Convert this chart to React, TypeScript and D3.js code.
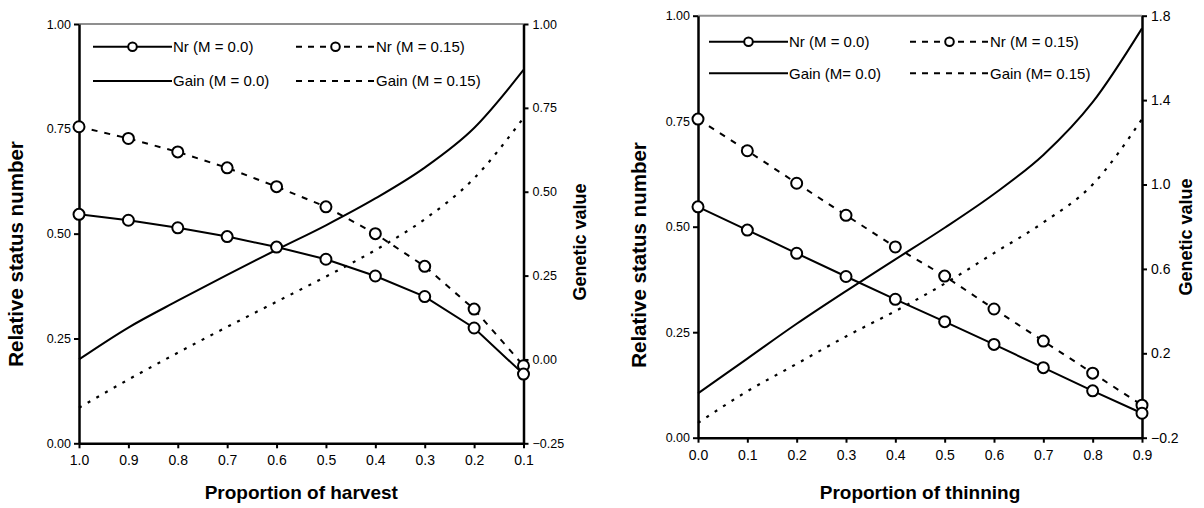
import React, { useEffect, useRef } from 'react';
import * as d3 from 'd3';

// left panel: proportion of harvest
const harvestX = [1.0, 0.9, 0.8, 0.7, 0.6, 0.5, 0.4, 0.3, 0.2, 0.1];
const harvestNr0 = [0.546, 0.532, 0.514, 0.493, 0.468, 0.439, 0.399, 0.35, 0.275, 0.165];
const harvestNr15 = [0.755, 0.727, 0.695, 0.657, 0.612, 0.564, 0.5, 0.422, 0.32, 0.185];
const harvestGain0 = [0.0, 0.095, 0.175, 0.252, 0.327, 0.4, 0.48, 0.572, 0.69, 0.863];
const harvestGain15 = [-0.144, -0.06, 0.02, 0.097, 0.172, 0.247, 0.326, 0.418, 0.54, 0.72];
const harvestGainTicks = [-0.25, 0, 0.25, 0.5, 0.75, 1.0];

// right panel: proportion of thinning
const thinX = [0.0, 0.1, 0.2, 0.3, 0.4, 0.5, 0.6, 0.7, 0.8, 0.9];
const thinNr0 = [0.547, 0.492, 0.437, 0.382, 0.328, 0.275, 0.221, 0.166, 0.111, 0.058];
const thinNr15 = [0.755, 0.68, 0.603, 0.527, 0.452, 0.383, 0.305, 0.229, 0.153, 0.077];
const thinGain0 = [0.01, 0.175, 0.34, 0.495, 0.645, 0.795, 0.955, 1.14, 1.39, 1.74];
const thinGain15 = [-0.13, 0.02, 0.15, 0.28, 0.4, 0.53, 0.675, 0.82, 1.0, 1.31];
const thinGainTicks = [-0.2, 0.2, 0.6, 1.0, 1.4, 1.8];

const nrTicks = [0, 0.25, 0.5, 0.75, 1.0];
const harvestLegend = ['Nr (M = 0.0)', 'Nr (M = 0.15)', 'Gain (M = 0.0)', 'Gain (M = 0.15)'];
const thinLegend = ['Nr (M = 0.0)', 'Nr (M = 0.15)', 'Gain (M= 0.0)', 'Gain (M= 0.15)'];

const FONT = 'Liberation Sans, Arial, Helvetica, sans-serif';

function drawPanel(svg: any, o: any) {
    const g = svg.append('g');
    const x = d3.scaleLinear().domain(o.xDomain).range([o.left, o.right]);
    const y = d3.scaleLinear().domain([0, 1]).range([o.bottom, o.top]);
    const y2 = d3.scaleLinear().domain(o.gainDomain).range([o.bottom, o.top]);

    // gray top edge of the plot area
    g.append('line')
        .attr('x1', o.left).attr('x2', o.right)
        .attr('y1', o.top).attr('y2', o.top)
        .attr('stroke', '#8f8f8f').attr('stroke-width', 2);

    const styleAxis = (ax: any, size: number) => {
        ax.attr('font-family', FONT).attr('font-size', size);
        ax.select('.domain').attr('stroke', '#000').attr('stroke-width', 2.5);
        ax.selectAll('.tick line').attr('stroke', '#000').attr('stroke-width', 2);
        ax.selectAll('.tick text').attr('fill', '#000');
    };

    const xAxis = g.append('g')
        .attr('transform', `translate(0,${o.bottom})`)
        .call(d3.axisBottom(x).tickValues(o.xs).tickSize(5).tickSizeOuter(0).tickPadding(7)
            .tickFormat(d3.format('.1f')));
    styleAxis(xAxis, 14);

    const leftAxis = g.append('g')
        .attr('transform', `translate(${o.left},0)`)
        .call(d3.axisLeft(y).tickValues(nrTicks).tickSize(5).tickSizeOuter(0).tickPadding(3)
            .tickFormat(d3.format('.2f')));
    styleAxis(leftAxis, 12.5);

    const rightAxis = g.append('g')
        .attr('transform', `translate(${o.right},0)`)
        .call(d3.axisRight(y2).tickValues(o.gainTicks).tickSize(5).tickSizeOuter(0).tickPadding(4)
            .tickFormat(d3.format(o.gainFmt)));
    styleAxis(rightAxis, o.gainFont);

    // axis titles
    g.append('text')
        .attr('x', (o.left + o.right) / 2).attr('y', 499)
        .attr('text-anchor', 'middle')
        .attr('font-family', FONT).attr('font-weight', 'bold').attr('font-size', 19)
        .text(o.xTitle);
    g.append('text')
        .attr('transform', `translate(${o.left - o.yTitleOffset},${o.yTitleY}) rotate(-90)`)
        .attr('text-anchor', 'middle')
        .attr('font-family', FONT).attr('font-weight', 'bold').attr('font-size', 20.5)
        .text('Relative status number');
    g.append('text')
        .attr('transform', `translate(${o.right + o.y2TitleOffset},${o.y2TitleY}) rotate(-90)`)
        .attr('text-anchor', 'middle')
        .attr('font-family', FONT).attr('font-weight', 'bold').attr('font-size', 18)
        .text('Genetic value');

    const curve = (vals: number[], sc: any) => d3.line<number>()
        .x((d, i) => x(o.xs[i]))
        .y(d => sc(d))
        .curve(d3.curveMonotoneX)(vals);
    const straight = (vals: number[]) => d3.line<number>()
        .x((d, i) => x(o.xs[i]))
        .y(d => y(d))(vals);

    g.append('path').attr('d', curve(o.gain15, y2))
        .attr('fill', 'none').attr('stroke', '#000').attr('stroke-width', 2.2)
        .attr('stroke-dasharray', '3,7');
    g.append('path').attr('d', curve(o.gain0, y2))
        .attr('fill', 'none').attr('stroke', '#000').attr('stroke-width', 2);
    g.append('path').attr('d', straight(o.nr15))
        .attr('fill', 'none').attr('stroke', '#000').attr('stroke-width', 2)
        .attr('stroke-dasharray', '6,7');
    g.append('path').attr('d', straight(o.nr0))
        .attr('fill', 'none').attr('stroke', '#000').attr('stroke-width', 2);

    [o.nr15, o.nr0].forEach((vals: number[]) => {
        g.selectAll(null)
            .data(vals)
            .enter().append('circle')
            .attr('cx', (d: number, i: number) => x(o.xs[i]))
            .attr('cy', (d: number) => y(d))
            .attr('r', 5.5)
            .attr('fill', '#fff')
            .attr('stroke', '#000')
            .attr('stroke-width', 2);
    });

    // legend, two columns by two rows
    const lg = g.append('g').attr('font-family', FONT).attr('font-size', 15);
    const cols = [o.legX, o.legX + o.legColGap];
    const rows = [o.legY, o.legY + o.legRowGap];
    o.legend.forEach((label: string, i: number) => {
        const cx = cols[i % 2];
        const cy = rows[Math.floor(i / 2)];
        const dashed = i % 2 === 1;
        lg.append('line')
            .attr('x1', cx).attr('x2', cx + 79)
            .attr('y1', cy).attr('y2', cy)
            .attr('stroke', '#000').attr('stroke-width', 2)
            .attr('stroke-dasharray', dashed ? '6,6' : null);
        if (i < 2) {
            lg.append('circle')
                .attr('cx', cx + 39.5).attr('cy', cy).attr('r', 4.3)
                .attr('fill', '#fff').attr('stroke', '#000').attr('stroke-width', 2);
        }
        lg.append('text')
            .attr('x', cx + 80).attr('y', cy)
            .attr('dy', '0.35em')
            .text(label);
    });
}

function App() {
    const chartRef = useRef<SVGSVGElement>(null);

    useEffect(() => {
        const svg = d3.select(chartRef.current);
        svg.selectAll('*').remove();

        drawPanel(svg, {
            left: 79, right: 523.5, top: 24, bottom: 443.3,
            xDomain: [1.0, 0.1], xs: harvestX,
            nr0: harvestNr0, nr15: harvestNr15,
            gain0: harvestGain0, gain15: harvestGain15,
            gainDomain: [-0.25, 1.0], gainTicks: harvestGainTicks, gainFmt: '.2f', gainFont: 12.5,
            xTitle: 'Proportion of harvest',
            yTitleOffset: 56, yTitleY: 254, y2TitleOffset: 62, y2TitleY: 242,
            legend: harvestLegend,
            legX: 93, legY: 46.7, legColGap: 203, legRowGap: 34.3,
        });

        drawPanel(svg, {
            left: 698, right: 1142, top: 15.7, bottom: 437.7,
            xDomain: [0, 0.9], xs: thinX,
            nr0: thinNr0, nr15: thinNr15,
            gain0: thinGain0, gain15: thinGain15,
            gainDomain: [-0.2, 1.8], gainTicks: thinGainTicks, gainFmt: '.1f', gainFont: 14,
            xTitle: 'Proportion of thinning',
            yTitleOffset: 52, yTitleY: 255, y2TitleOffset: 50, y2TitleY: 237,
            legend: thinLegend,
            legX: 709, legY: 41.7, legColGap: 201, legRowGap: 31.6,
        });
    }, []);

    return (
        <svg ref={chartRef} width={1204} height={508}
            style={{ position: 'absolute', left: 0, top: 0, background: '#fff' }} />
    );
}

export default App;
